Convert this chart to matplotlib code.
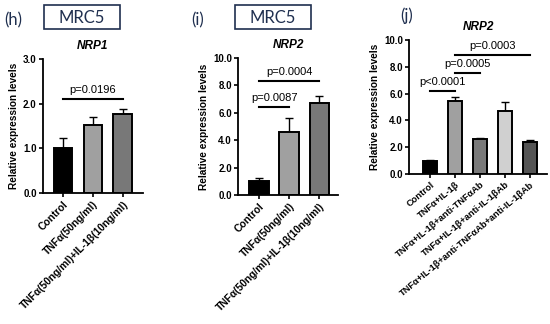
import matplotlib.pyplot as plt
from matplotlib.patches import Rectangle

plt.rcParams['font.family'] = ['Liberation Sans', 'DejaVu Sans']

# ---- data -------------------------------------------------------------------
h_labels = ["Control", "TNFα(50ng/ml)", "TNFα(50ng/ml)+IL-1β(10ng/ml)"]
h_means = [1.0, 1.52, 1.78]
h_err = [0.23, 0.18, 0.09]
h_colors = ["#000000", "#a0a0a0", "#787878"]
h_pvals = [("p=0.0196", 0, 2, 2.1)]

i_labels = ["Control", "TNFα(50ng/ml)", "TNFα(50ng/ml)+IL-1β(10ng/ml)"]
i_means = [1.0, 4.6, 6.7]
i_err = [0.25, 1.05, 0.55]
i_colors = ["#000000", "#a0a0a0", "#787878"]
i_pvals = [("p=0.0087", 0, 1, 6.4), ("p=0.0004", 0, 2, 8.3)]

j_labels = ["Control", "TNFα+IL-1β", "TNFα+IL-1β+anti-TNFαAb",
            "TNFα+IL-1β+anti-IL-1βAb", "TNFα+IL-1β+anti-TNFαAb+anti-IL-1βAb"]
j_means = [0.95, 5.45, 2.6, 4.7, 2.35]
j_err = [0.1, 0.3, 0.1, 0.65, 0.2]
j_colors = ["#000000", "#a0a0a0", "#7a7a7a", "#d0d0d0", "#555555"]
j_pvals = [("p<0.0001", 0, 1, 6.2), ("p=0.0005", 1, 2, 7.5), ("p=0.0003", 1, 4, 8.9)]

fig = plt.figure(figsize=(5.5, 3.24), dpi=100)


def panel(rect, labels, means, err, colors, pvals, title, yticks, xlim, width,
          rot=45, tick_fs=7.4):
    ax = fig.add_axes(rect)
    x = list(range(len(means)))
    ax.bar(x, means, width=width, color=colors, edgecolor='black', linewidth=1.4, zorder=2)
    ax.errorbar(x, means, yerr=[[0] * len(err), err], fmt='none', ecolor='black',
                elinewidth=1.0, capsize=3, capthick=1.0, zorder=1)
    ax.set_xlim(*xlim)
    ax.set_ylim(yticks[0], yticks[-1])
    ax.set_yticks(yticks)
    ax.set_yticklabels([f"{t:.1f}" for t in yticks], fontsize=7, fontweight='bold')
    ax.set_xticks(x)
    ax.set_xticklabels(labels, rotation=rot, ha='right', rotation_mode='anchor',
                       fontsize=tick_fs, fontweight='bold')
    for s in ['top', 'right']:
        ax.spines[s].set_visible(False)
    for s in ['left', 'bottom']:
        ax.spines[s].set_linewidth(1.3)
    ax.tick_params(width=1.2, length=3, pad=1.5)
    ax.set_ylabel("Relative expression levels", fontsize=7.3, fontweight='bold', labelpad=3)
    ax.set_title(title, fontsize=8.5, fontweight='bold', style='italic', pad=7)
    span = yticks[-1] - yticks[0]
    for text, a, b, y in pvals:
        ax.plot([a, b], [y, y], color='black', lw=1.5, clip_on=False)
        ax.text((a + b) / 2, y + span * 0.03, text, ha='center', va='bottom', fontsize=8)
    return ax


panel([0.078, 0.404, 0.182, 0.414], h_labels, h_means, h_err, h_colors, h_pvals,
      "NRP1", [0.0, 1.0, 2.0, 3.0], (-0.67, 2.67), 0.63)
panel([0.433, 0.398, 0.182, 0.423], i_labels, i_means, i_err, i_colors, i_pvals,
      "NRP2", [0.0, 2.0, 4.0, 6.0, 8.0, 10.0], (-0.7, 2.63), 0.65)
panel([0.744, 0.463, 0.251, 0.414], j_labels, j_means, j_err, j_colors, j_pvals,
      "NRP2", [0.0, 2.0, 4.0, 6.0, 8.0, 10.0], (-0.84, 4.68), 0.56, rot=40, tick_fs=6.7)

# panel letters and cell-line boxes
navy = '#1f2f4f'
for xl, yl, letter in [(0.008, 0.938, "(h)"), (0.348, 0.938, "(i)"), (0.728, 0.952, "(j)")]:
    fig.text(xl, yl, letter, fontsize=12, color=navy, family=['Lato', 'DejaVu Sans'], va='center')
for x0 in [0.080, 0.427]:
    fig.patches.append(Rectangle((x0, 0.91), 0.138, 0.074, transform=fig.transFigure,
                                 fill=False, edgecolor=navy, lw=1.2))
    fig.text(x0 + 0.069, 0.945, "MRC5", fontsize=12, color=navy,
             family=['Lato', 'DejaVu Sans'], ha='center', va='center')

fig.savefig("out.png", dpi=100)
